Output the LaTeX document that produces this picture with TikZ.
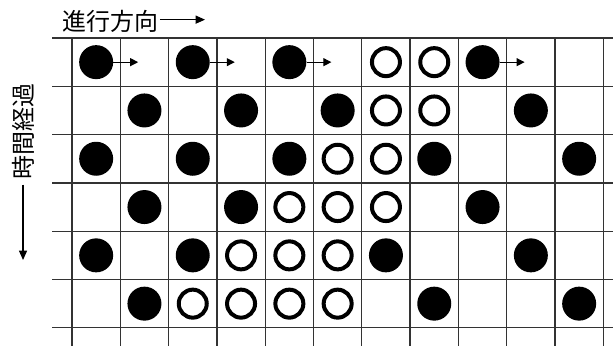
\documentclass[tikz,border=0pt]{standalone}
\usepackage{fontspec}
\newfontfamily\jpfont{Noto Sans CJK JP}
\usepackage{tikz}
\usetikzlibrary{calc, positioning, arrows.meta}
\tikzset{
    traffic/.style={
        font=\jpfont\fontsize{18pt}{21pt}\selectfont,
        >={Triangle[length=7pt, width=6pt]},
        gridline/.style={line width=1pt, black!80},
        car/.style={circle, fill=black, inner sep=0pt, minimum size=25.5pt},
        jam/.style={circle, draw=black, line width=3pt, inner sep=0pt, minimum size=21pt},
        arrow/.style={line width=0.9pt, ->},
        move/.style={line width=0.8pt, -{Triangle[length=6pt, width=6pt]}}
    }
}

\begin{document}
\begin{tikzpicture}[traffic, x=36.225pt, y=-36.225pt]
        \useasboundingbox (-1.4907,-0.7867) rectangle (11.2008,6.3768);

        % Lattice
        \foreach \r in {0,...,6}
            \draw[gridline] (-0.414,\r) -- (11.2008,\r);
        \foreach \c in {0,...,11}
            \draw[gridline] (\c,0) -- (\c,6.3768);

        % Filled circles (row/columns)
        \foreach \r/\cols in {0/{0,2,4,8}, 1/{1,3,5,9}, 2/{0,2,4,7,10},
                              3/{1,3,8}, 4/{0,2,6,9}, 5/{1,7,10}}
            \foreach \c in \cols
                \node[car] (car-\r-\c) at (\c+0.5,\r+0.5) {};

        % Open circles
        \foreach \r/\cols in {0/{6,7}, 1/{6,7}, 2/{5,6}, 3/{4,5,6},
                              4/{3,4,5}, 5/{2,3,4,5}}
            \foreach \c in \cols
                \node[jam] (jam-\r-\c) at (\c+0.5,\r+0.5) {};

        % Motion of the first row
        \foreach \c in {0,2,4,8} {
            \coordinate (head-\c) at (\c+1.37,0.5);
            \draw[move] (car-0-\c) -- (head-\c);
        }

        % Direction of travel
        \node[inner sep=0.5pt] (dirlabel) at (0.807,-0.34) {進行方向};
        \coordinate (dirtip) at (2.754,-0.38);
        \draw[arrow] (dirlabel.east |- dirtip) -- (dirtip);

        % Elapsed time
        \node[rotate=90] (timelabel) at (-1.014,1.946) {時間経過};
        \coordinate (timetip) at (-1.014,4.596);
        \draw[arrow] (timelabel.west) -- (timetip);

    \end{tikzpicture}
\end{document}
